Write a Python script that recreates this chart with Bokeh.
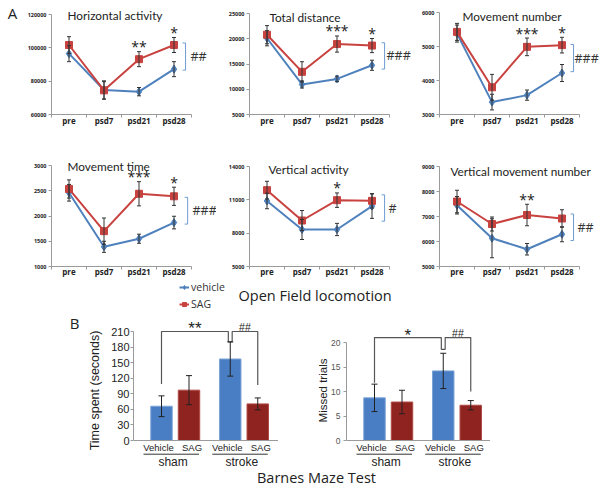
from bokeh.plotting import figure
from bokeh.models import (ColumnDataSource, Whisker, TeeHead, Label, Range1d, FixedTicker,
                          BasicTickFormatter, Legend, LegendItem, Span)
from bokeh.layouts import column, row
from bokeh.embed import file_html
from bokeh.resources import INLINE
from bokeh.core.properties import value

# ---------------- data ----------------
categories = ["pre", "psd7", "psd21", "psd28"]

hact_vehicle = [96500, 74700, 73700, 87200]
hact_vehicle_err = [4800, 5500, 2500, 4500]
hact_sag = [101700, 74500, 93200, 101700]
hact_sag_err = [5000, 5200, 4500, 4500]
hact_stars = ["", "", "**", "*"]
hact_hash = "##"
hact_bracket = [86600, 102900]
hact_yticks = [60000, 80000, 100000, 120000]

tdist_vehicle = [20100, 10950, 12050, 14750]
tdist_vehicle_err = [1500, 700, 550, 1000]
tdist_sag = [20800, 13450, 18950, 18650]
tdist_sag_err = [1800, 2000, 1600, 1400]
tdist_stars = ["", "", "***", "*"]
tdist_hash = "###"
tdist_bracket = [14000, 19200]
tdist_yticks = [5000, 10000, 15000, 20000, 25000]

mnum_vehicle = [5380, 3365, 3570, 4220]
mnum_vehicle_err = [250, 230, 150, 250]
mnum_sag = [5430, 3800, 4990, 5040]
mnum_sag_err = [250, 380, 260, 230]
mnum_stars = ["", "", "***", "*"]
mnum_hash = "###"
mnum_bracket = [4260, 5060]
mnum_yticks = [3000, 4000, 5000, 6000]

mtime_vehicle = [2460, 1390, 1550, 1870]
mtime_vehicle_err = [165, 110, 90, 125]
mtime_sag = [2535, 1700, 2440, 2390]
mtime_sag_err = [180, 260, 240, 180]
mtime_stars = ["", "", "***", "*"]
mtime_hash = "###"
mtime_bracket = [1840, 2370]
mtime_yticks = [1000, 1500, 2000, 2500, 3000]

vact_vehicle = [10900, 8330, 8330, 10430]
vact_vehicle_err = [700, 900, 550, 1100]
vact_sag = [11870, 9140, 10970, 10910]
vact_sag_err = [800, 900, 650, 650]
vact_stars = ["", "", "*", ""]
vact_hash = "#"
vact_bracket = [9080, 11450]
vact_yticks = [5000, 8000, 11000, 14000]

vmov_vehicle = [7450, 6130, 5690, 6290]
vmov_vehicle_err = [350, 780, 230, 300]
vmov_sag = [7600, 6700, 7060, 6920]
vmov_sag_err = [450, 280, 430, 350]
vmov_stars = ["", "", "**", ""]
vmov_hash = "##"
vmov_bracket = [6040, 7100]
vmov_yticks = [5000, 6000, 7000, 8000, 9000]

bar_groups = ["sham", "sham", "stroke", "stroke"]
bar_treatments = ["Vehicle", "SAG", "Vehicle", "SAG"]
time_spent = [66, 97, 157, 70.5]
time_spent_err = [20, 28, 33, 11.5]
time_yticks = [0, 30, 60, 90, 120, 150, 180, 210]
missed_trials = [8.7, 7.85, 14.2, 7.2]
missed_trials_err = [2.8, 2.4, 3.6, 0.95]
missed_yticks = [0, 5, 10, 15, 20]

# ---------------- style ----------------
BLUE = "#4F81BD"
RED = "#C8423F"
BAR_BLUE = "#4A7EC4"
BAR_BLUE_EDGE = "#7BA3D6"
BAR_RED = "#8F231F"
BAR_RED_EDGE = "#B04A45"
AXIS_GRAY = "#9A9A9A"
TXT = "#222222"
FONT = "Open Sans"
TFONT = "Lato"
ARIAL = "Liberation Sans"
UNIT = 35.0


def base_fig(W, H, bl, bb, xr, yr, **kw):
    p = figure(width=W, height=H, x_range=xr, y_range=yr, output_backend="svg",
               toolbar_location=None, min_border_left=bl, min_border_right=0,
               min_border_top=0, min_border_bottom=bb, outline_line_color=None, **kw)
    p.xgrid.visible = False
    p.ygrid.visible = False
    return p


def blank_fig(W, H):
    p = figure(width=W, height=H, x_range=Range1d(0, W), y_range=Range1d(0, H),
               x_axis_type=None, y_axis_type=None, output_backend="svg", toolbar_location=None,
               min_border=0, outline_line_color=None)
    p.xgrid.visible = False
    p.ygrid.visible = False
    return p


def line_panel(title, veh, veh_err, sag, sag_err, stars, hash_text, bracket, yticks, g):
    W, H, bl, bb = g["W"], g["H"], g["bl"], g["bb"]
    frame_w, frame_h = W - bl, H - bb
    x0 = -0.5
    x1 = x0 + frame_w / UNIT
    ylo, yhi = yticks[0], yticks[-1]
    ys = (yhi - ylo) / (frame_h - g["top"])
    y1 = ylo + frame_h * ys
    p = base_fig(W, H, bl, bb, Range1d(x0, x1), Range1d(ylo, y1))

    def X(lx):
        return x0 + (lx - bl) / UNIT

    def Y(ly):
        return ylo + (frame_h - ly) * ys

    xs = list(range(len(categories)))
    src = ColumnDataSource(dict(
        x=xs, veh=veh, sag=sag,
        vlo=[v - e for v, e in zip(veh, veh_err)], vhi=[v + e for v, e in zip(veh, veh_err)],
        slo=[v - e for v, e in zip(sag, sag_err)], shi=[v + e for v, e in zip(sag, sag_err)],
        stars=stars))

    p.line("x", "veh", source=src, line_color=BLUE, line_width=2)
    p.line("x", "sag", source=src, line_color=RED, line_width=2)
    p.scatter("x", "veh", source=src, marker="diamond", size=8, fill_color=BLUE, line_color=BLUE)
    p.scatter("x", "sag", source=src, marker="square", size=7, fill_color=RED, line_color=RED)
    for lo, hi in (("vlo", "vhi"), ("slo", "shi")):
        p.add_layout(Whisker(source=src, base="x", lower=lo, upper=hi, level="annotation",
                             line_color="#333333", line_width=1,
                             upper_head=TeeHead(size=4, line_color="#333333", line_width=1),
                             lower_head=TeeHead(size=4, line_color="#333333", line_width=1)))
    p.text("x", "shi", text="stars", source=src, text_align="center", text_baseline="middle",
           y_offset=-5, text_font=value(FONT), text_font_size="14px", text_color=TXT)

    bx = g["bx"]
    t = 3.0 / UNIT
    p.segment(x0=[bx, bx - t, bx - t], y0=[bracket[0], bracket[0], bracket[1]],
              x1=[bx, bx, bx], y1=[bracket[1], bracket[0], bracket[1]],
              line_color="#6E9BD2", line_width=1)
    p.text(x=[X(g["hx"])], y=[sum(bracket) / 2], text=[hash_text], text_align="left",
           text_baseline="middle", text_font=value(FONT), text_font_size="12.5px", text_color="#333333")

    p.add_layout(Label(x=X(g["tx"]), y=Y(g["ty"]), text=title, text_baseline="middle",
                       text_font=TFONT, text_font_size="11.8px", text_color=TXT))

    p.xaxis.ticker = FixedTicker(ticks=xs, minor_ticks=[i - 0.5 for i in range(len(xs) + 1)])
    p.xaxis.major_label_overrides = {i: c for i, c in enumerate(categories)}
    p.xaxis.bounds = (-0.5, len(xs) - 0.5)
    p.xaxis.major_tick_out = 0
    p.xaxis.major_tick_in = 0
    p.xaxis.minor_tick_out = 3
    p.xaxis.minor_tick_in = 0
    p.xaxis.major_label_standoff = g["xs"]
    p.xaxis.major_label_text_font = FONT
    p.xaxis.major_label_text_font_style = "bold"
    p.xaxis.major_label_text_font_size = "8px"
    p.xaxis.major_label_text_color = TXT
    p.yaxis.ticker = FixedTicker(ticks=yticks, minor_ticks=[])
    p.yaxis.bounds = (ylo, yhi)
    p.yaxis.formatter = BasicTickFormatter(use_scientific=False)
    p.yaxis.major_tick_out = 3
    p.yaxis.major_tick_in = 0
    p.yaxis.major_label_standoff = 2
    p.yaxis.major_label_text_font = FONT
    p.yaxis.major_label_text_font_style = "bold"
    p.yaxis.major_label_text_font_size = "5.5px"
    p.yaxis.major_label_text_color = TXT
    for ax in (p.xaxis, p.yaxis):
        ax.axis_line_color = AXIS_GRAY
        ax.major_tick_line_color = AXIS_GRAY
        ax.minor_tick_line_color = AXIS_GRAY
    return p


BUNIT = 27.5


def bar_panel(vals, errs, yticks, ylabel, g, brackets):
    W, H, bl = g["W"], g["H"], g["bl"]
    frame_w, frame_h = W - bl, H
    x0 = -28.0 / BUNIT
    x1 = x0 + frame_w / BUNIT
    ylo, yhi = yticks[0], yticks[-1]
    ys = (yhi - ylo) / (g["base"] - g["top"])
    y0 = ylo - (frame_h - g["base"]) * ys
    y1 = yhi + g["top"] * ys
    p = base_fig(W, H, bl, 0, Range1d(x0, x1), Range1d(y0, y1), x_axis_location=None)

    def Y(ly):
        return ylo + (g["base"] - ly) * ys

    groups = list(dict.fromkeys(bar_groups))
    pos = [i + 0.5 * groups.index(gr) for i, gr in enumerate(bar_groups)]
    fills = [BAR_BLUE if t == "Vehicle" else BAR_RED for t in bar_treatments]
    edges = [BAR_BLUE_EDGE if t == "Vehicle" else BAR_RED_EDGE for t in bar_treatments]
    xoff = [-3 if t == "Vehicle" else 3 for t in bar_treatments]
    src = ColumnDataSource(dict(x=pos, top=vals, fill=fills, edge=edges, name=bar_treatments,
                                xoff=xoff, ly=[Y(135)] * len(pos),
                                lo=[v - e for v, e in zip(vals, errs)],
                                hi=[v + e for v, e in zip(vals, errs)]))
    p.vbar(x="x", top="top", width=0.78, bottom=0, source=src, fill_color="fill", line_color="edge")
    p.add_layout(Whisker(source=src, base="x", lower="lo", upper="hi", level="annotation",
                         line_color="#222222", line_width=1,
                         upper_head=TeeHead(size=6, line_color="#222222", line_width=1),
                         lower_head=TeeHead(size=6, line_color="#222222", line_width=1)))
    p.add_layout(Span(location=0, dimension="width", line_color=AXIS_GRAY, line_width=1))

    # category labels under the baseline
    p.text("x", "ly", text="name", source=src, x_offset="xoff", text_align="center",
           text_baseline="middle", text_font=value(ARIAL), text_font_size="9.5px", text_color=TXT)

    # group labels and underlines
    gsrc = ColumnDataSource(dict(
        xc=[sum(pp for pp, gg in zip(pos, bar_groups) if gg == gr) / bar_groups.count(gr) - 0.08 for gr in groups],
        x0=[min(pp for pp, gg in zip(pos, bar_groups) if gg == gr) - 18 / BUNIT for gr in groups],
        x1=[max(pp for pp, gg in zip(pos, bar_groups) if gg == gr) + 10 / BUNIT for gr in groups],
        yl=[Y(141.7)] * len(groups), yg=[Y(149)] * len(groups), name=groups))
    p.segment(x0="x0", y0="yl", x1="x1", y1="yl", source=gsrc, line_color="#333333", line_width=1)
    p.text("xc", "yg", text="name", source=gsrc, text_align="center", text_baseline="middle",
           text_font=value(ARIAL), text_font_size="12px", text_color=TXT)

    # significance brackets
    level = brackets["level"]
    a, b, c = pos[0], pos[2], pos[3]
    gap = 0.07
    p.multi_line(xs=[[a, a, b - gap, b - gap, b + gap, b + gap, c, c]],
                 ys=[[brackets["d0"], level, level, brackets["dm"], brackets["dm"], level, level, brackets["d3"]]],
                 line_color="#555555", line_width=1.2)
    p.text(x=[(a + b - gap) / 2], y=[level], text=[brackets["t1"]], text_align="center",
           text_baseline="middle", y_offset=brackets["o1"], text_font=value(ARIAL),
           text_font_size=brackets["s1"], text_color=TXT)
    p.text(x=[(b + gap + c) / 2], y=[level], text=[brackets["t2"]], text_align="center",
           text_baseline="middle", y_offset=-5, text_font=value(ARIAL),
           text_font_size="10.5px", text_color="#1A1A1A")

    p.yaxis.ticker = FixedTicker(ticks=yticks, minor_ticks=[])
    p.yaxis.bounds = (ylo, yhi)
    p.yaxis.major_tick_out = 3
    p.yaxis.major_tick_in = 0
    p.yaxis.major_label_standoff = g["ls"]
    p.yaxis.major_label_text_font = ARIAL
    p.yaxis.major_label_text_font_size = g["tfs"]
    p.yaxis.major_label_text_color = g["tcol"]
    p.yaxis.axis_label = ylabel
    p.yaxis.axis_label_text_font = ARIAL
    p.yaxis.axis_label_text_font_style = "normal"
    p.yaxis.axis_label_text_font_size = g["lfs"]
    p.yaxis.axis_label_text_color = TXT
    p.yaxis.axis_label_standoff = g["als"]
    p.yaxis.axis_line_color = AXIS_GRAY
    p.yaxis.major_tick_line_color = AXIS_GRAY
    return p


# ---------------- row 1 (page y 0..130) ----------------
figA = blank_fig(22, 130)
figA.add_layout(Label(x=12, y=116, text="A", text_align="center", text_baseline="middle",
                      text_font=FONT, text_font_size="15px", text_color=TXT))
g1 = dict(W=186, H=130, bl=29, bb=16, top=14, tx=45, ty=15, hx=168, bx=3.33, xs=-3)
g2 = dict(W=206, H=130, bl=41, bb=16, top=13, tx=61, ty=17, hx=178, bx=3.36, xs=-3)
g3 = dict(W=186, H=130, bl=25, bb=16, top=12, tx=48, ty=16, hx=160, bx=3.33, xs=-3)
# ---------------- row 2 (page y 130..282) ----------------
g4 = dict(W=216, H=152, bl=51, bb=16, top=35, tx=67, ty=36, hx=192, bx=3.39, xs=-4)
g5 = dict(W=198, H=152, bl=33, bb=16, top=36, tx=52, ty=39, hx=172, bx=3.36, xs=-4)
g6 = dict(W=186, H=152, bl=25, bb=16, top=36, tx=36, ty=41, hx=163, bx=3.33, xs=-4)

p1 = line_panel("Horizontal activity", hact_vehicle, hact_vehicle_err, hact_sag, hact_sag_err,
                hact_stars, hact_hash, hact_bracket, hact_yticks, g1)
p2 = line_panel("Total distance", tdist_vehicle, tdist_vehicle_err, tdist_sag, tdist_sag_err,
                tdist_stars, tdist_hash, tdist_bracket, tdist_yticks, g2)
p3 = line_panel("Movement number", mnum_vehicle, mnum_vehicle_err, mnum_sag, mnum_sag_err,
                mnum_stars, mnum_hash, mnum_bracket, mnum_yticks, g3)
p4 = line_panel("Movement time", mtime_vehicle, mtime_vehicle_err, mtime_sag, mtime_sag_err,
                mtime_stars, mtime_hash, mtime_bracket, mtime_yticks, g4)
p5 = line_panel("Vertical activity", vact_vehicle, vact_vehicle_err, vact_sag, vact_sag_err,
                vact_stars, vact_hash, vact_bracket, vact_yticks, g5)
p6 = line_panel("Vertical movement number", vmov_vehicle, vmov_vehicle_err, vmov_sag, vmov_sag_err,
                vmov_stars, vmov_hash, vmov_bracket, vmov_yticks, g6)

# ---------------- legend + section title strip (page y 282..312) ----------------
strip = blank_fig(600, 30)
nan = float("nan")
rv1 = strip.line(x=[nan], y=[nan], line_color=BLUE, line_width=2)
rv2 = strip.scatter(x=[nan], y=[nan], marker="diamond", size=7, fill_color=BLUE, line_color=BLUE)
rs1 = strip.line(x=[nan], y=[nan], line_color=RED, line_width=2)
rs2 = strip.scatter(x=[nan], y=[nan], marker="square", size=6, fill_color=RED, line_color=RED)
legend = Legend(items=[LegendItem(label="vehicle", renderers=[rv1, rv2]),
                       LegendItem(label="SAG", renderers=[rs1, rs2])],
                location=(179, 1), orientation="vertical", padding=0, margin=0, spacing=3,
                glyph_width=10, glyph_height=12, label_height=12, label_standoff=2,
                label_text_font=FONT, label_text_font_size="10.5px", label_text_color="#333333",
                background_fill_alpha=0, border_line_alpha=0)
strip.add_layout(legend)
strip.add_layout(Label(x=238, y=17, text="Open Field locomotion", text_baseline="middle",
                       text_font=FONT, text_font_size="14.5px", text_color=TXT))

# ---------------- bar row (page y 312..468) ----------------
figB = blank_fig(85, 156)
figB.add_layout(Label(x=74, y=146, text="B", text_align="center", text_baseline="middle",
                      text_font=FONT, text_font_size="15px", text_color=TXT))
gb1 = dict(W=193, H=156, bl=48, base=128, top=19, ls=1, tfs="11px", tcol=TXT, lfs="12.5px", als=6)
gb2 = dict(W=212, H=156, bl=68, base=128, top=30, ls=3, tfs="8.5px", tcol="#555555", lfs="11.5px", als=-1)
b1 = bar_panel(time_spent, time_spent_err, time_yticks, "Time spent (seconds)", gb1,
               dict(level=210, d0=109, dm=190, d3=107, t1="**", t2="##", o1=-3, s1="17px"))
b2 = bar_panel(missed_trials, missed_trials_err, missed_yticks, "Missed trials", gb2,
               dict(level=21.0, d0=11.8, dm=18.6, d3=10.0, t1="*", t2="##", o1=-2, s1="17px"))

strip2 = blank_fig(600, 20)
strip2.add_layout(Label(x=316, y=11, text="Barnes Maze Test", text_align="center",
                        text_baseline="middle", text_font=FONT, text_font_size="14.5px", text_color=TXT))

layout = column(row(figA, p1, p2, p3), row(p4, p5, p6), strip, row(figB, b1, b2), strip2)

open("out.html", "w").write(file_html(layout, INLINE))
